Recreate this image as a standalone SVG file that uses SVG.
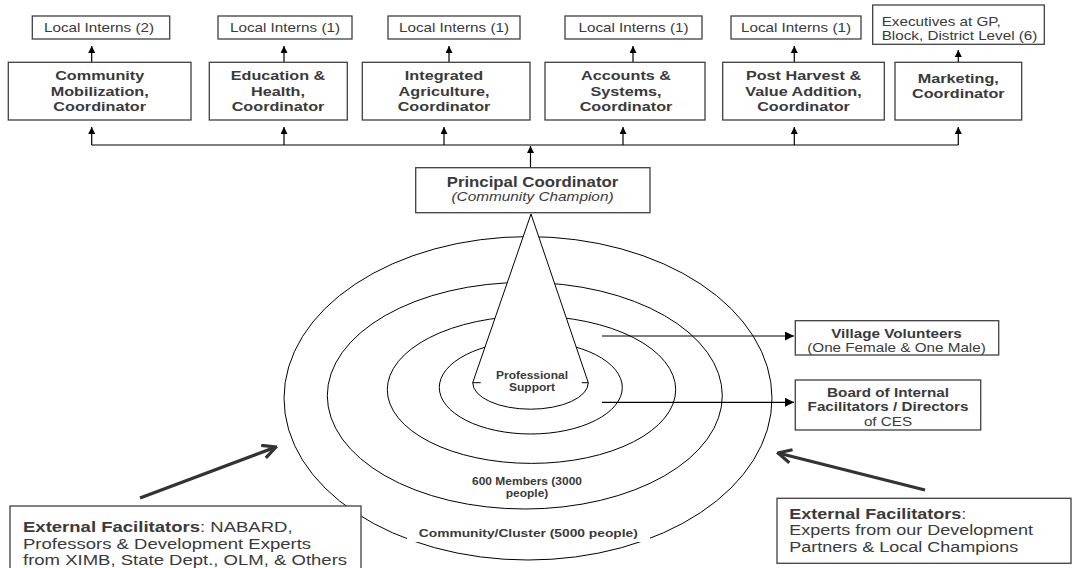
<svg xmlns="http://www.w3.org/2000/svg" width="1072" height="568" viewBox="0 0 1072 568">
<style>
.t{font-family:"Liberation Sans",Arial,sans-serif;fill:#3a3a3a}
.b{font-weight:bold}
.i{font-style:italic}
.m{text-anchor:middle}
.box{fill:#fff;stroke:#404040;stroke-width:1.3}
.ln{fill:none;stroke:#000;stroke-width:1.2}
.ring{fill:none;stroke:#000;stroke-width:1}
.thick{fill:none;stroke:#333;stroke-width:3.2}
</style>
<defs>
<marker id="tri" viewBox="0 0 10 10" refX="10" refY="5" markerWidth="7" markerHeight="7" orient="auto" markerUnits="userSpaceOnUse"><path d="M0,0 L10,5 L0,10 z" fill="#000"/></marker>
<marker id="tri2" viewBox="0 0 10 10" refX="10" refY="5" markerWidth="9" markerHeight="9" orient="auto" markerUnits="userSpaceOnUse"><path d="M0,0 L10,5 L0,10 z" fill="#000"/></marker>
<marker id="chev" viewBox="0 0 12 12" refX="11" refY="6" markerWidth="16" markerHeight="16" orient="auto" markerUnits="userSpaceOnUse"><path d="M1,1 L11,6 L1,11" fill="none" stroke="#333" stroke-width="2.4"/></marker>
</defs>
<rect width="1072" height="568" fill="#fff"/>

<g id="rings">
<ellipse class="ring" cx="528" cy="398.3" rx="244" ry="161.7"/>
<ellipse class="ring" cx="524.8" cy="395.7" rx="197.5" ry="113.3"/>
<ellipse class="ring" cx="531.5" cy="389.7" rx="144.2" ry="73.7"/>
<ellipse class="ring" cx="530.8" cy="387.5" rx="91.5" ry="46.5"/>
</g>

<g id="cone">
<path d="M531,214 L472.7,382.7 A57.8,26.5 0 0 0 588.3,382.7 Z" fill="#fff" stroke="#000" stroke-width="1"/>
<path class="ring" d="M472.7,382.7 H480.7 M581.7,382.7 H588.3"/>
<g transform="translate(532,0) scale(1.2,1)">
<text class="t b m" x="0" y="379.4" font-size="10">Professional</text>
<text class="t b m" x="0" y="391" font-size="10">Support</text>
</g>
</g>

<g id="members-label" transform="translate(527,0) scale(1.2,1)">
<text class="t b m" x="0" y="485.3" font-size="10">600 Members (3000</text>
<text class="t b m" x="0" y="497" font-size="10">people)</text>
</g>

<g id="cluster-label">
<rect x="407" y="522" width="243" height="20" fill="#fff"/>
<g transform="translate(528.3,0) scale(1.2,1)">
<text class="t b m" x="0" y="536.8" font-size="11.5">Community/Cluster (5000 people)</text>
</g>
</g>

<g id="connectors">
<path class="ln" d="M91.7,145 H958.3"/>
<path class="ln" d="M91.7,145 V127" marker-end="url(#tri)"/>
<path class="ln" d="M284,145 V127" marker-end="url(#tri)"/>
<path class="ln" d="M444,145 V127" marker-end="url(#tri)"/>
<path class="ln" d="M623,145 V127" marker-end="url(#tri)"/>
<path class="ln" d="M794.3,145 V127" marker-end="url(#tri)"/>
<path class="ln" d="M958.3,145 V127" marker-end="url(#tri)"/>
<path class="ln" d="M530.5,168 V146" marker-end="url(#tri)"/>
<path class="ln" d="M91.7,62 V46" marker-end="url(#tri)"/>
<path class="ln" d="M284,62 V46" marker-end="url(#tri)"/>
<path class="ln" d="M449,62 V46" marker-end="url(#tri)"/>
<path class="ln" d="M633,62 V46" marker-end="url(#tri)"/>
<path class="ln" d="M794.3,62 V46" marker-end="url(#tri)"/>
<path class="ln" d="M958.3,62 V50" marker-end="url(#tri)"/>
<path class="ln" d="M602,336 H794" marker-end="url(#tri2)"/>
<path class="ln" d="M602,402.3 H794" marker-end="url(#tri2)"/>
<path class="thick" d="M140,498 L276,447" marker-end="url(#chev)"/>
<path class="thick" d="M925,490 L778,453" marker-end="url(#chev)"/>
</g>

<g id="intern1"><rect class="box" x="32.3" y="16" width="137.4" height="23"/>
<g transform="translate(99,0) scale(1.2,1)"><text class="t m" x="0" y="32" font-size="12.7">Local Interns (2)</text></g></g>
<g id="intern2"><rect class="box" x="218" y="16" width="134" height="23"/>
<g transform="translate(285,0) scale(1.2,1)"><text class="t m" x="0" y="32" font-size="12.7">Local Interns (1)</text></g></g>
<g id="intern3"><rect class="box" x="388" y="16" width="132" height="23"/>
<g transform="translate(454,0) scale(1.2,1)"><text class="t m" x="0" y="32" font-size="12.7">Local Interns (1)</text></g></g>
<g id="intern4"><rect class="box" x="565" y="16" width="137" height="23"/>
<g transform="translate(633.5,0) scale(1.2,1)"><text class="t m" x="0" y="32" font-size="12.7">Local Interns (1)</text></g></g>
<g id="intern5"><rect class="box" x="731" y="16" width="130" height="23"/>
<g transform="translate(796,0) scale(1.2,1)"><text class="t m" x="0" y="32" font-size="12.7">Local Interns (1)</text></g></g>
<g id="executives"><rect class="box" x="872.7" y="5" width="171.6" height="39.3"/>
<g transform="translate(881.7,0) scale(1.2,1)"><text class="t" x="0" y="26.3" font-size="12.7">Executives at GP,</text>
<text class="t" x="0" y="39.6" font-size="12.7">Block, District Level (6)</text></g></g>

<g id="coord1"><rect class="box" x="8.3" y="62.3" width="182.7" height="57.7"/>
<g transform="translate(99.7,0) scale(1.2,1)"><text class="t b m" x="0" y="80.4" font-size="13.5">Community</text>
<text class="t b m" x="0" y="95.9" font-size="13.5">Mobilization,</text>
<text class="t b m" x="0" y="111.4" font-size="13.5">Coordinator</text></g></g>
<g id="coord2"><rect class="box" x="209.3" y="62.3" width="138" height="57.7"/>
<g transform="translate(278,0) scale(1.2,1)"><text class="t b m" x="0" y="80.4" font-size="13.5">Education &amp;</text>
<text class="t b m" x="0" y="95.9" font-size="13.5">Health,</text>
<text class="t b m" x="0" y="111.4" font-size="13.5">Coordinator</text></g></g>
<g id="coord3"><rect class="box" x="362.3" y="62.3" width="167.7" height="57.7"/>
<g transform="translate(444,0) scale(1.2,1)"><text class="t b m" x="0" y="80.4" font-size="13.5">Integrated</text>
<text class="t b m" x="0" y="95.9" font-size="13.5">Agriculture,</text>
<text class="t b m" x="0" y="111.4" font-size="13.5">Coordinator</text></g></g>
<g id="coord4"><rect class="box" x="545" y="62.3" width="160" height="57.7"/>
<g transform="translate(626,0) scale(1.2,1)"><text class="t b m" x="0" y="80.4" font-size="13.5">Accounts &amp;</text>
<text class="t b m" x="0" y="95.9" font-size="13.5">Systems,</text>
<text class="t b m" x="0" y="111.4" font-size="13.5">Coordinator</text></g></g>
<g id="coord5"><rect class="box" x="722.7" y="62.3" width="161.6" height="57.7"/>
<g transform="translate(803.5,0) scale(1.2,1)"><text class="t b m" x="0" y="80.4" font-size="13.5">Post Harvest &amp;</text>
<text class="t b m" x="0" y="95.9" font-size="13.5">Value Addition,</text>
<text class="t b m" x="0" y="111.4" font-size="13.5">Coordinator</text></g></g>
<g id="coord6"><rect class="box" x="895" y="62.3" width="126.7" height="57.7"/>
<g transform="translate(958.3,0) scale(1.2,1)"><text class="t b m" x="0" y="83" font-size="13.5">Marketing,</text>
<text class="t b m" x="0" y="98.4" font-size="13.5">Coordinator</text></g></g>

<g id="principal"><rect class="box" x="415.7" y="167.7" width="234.3" height="45"/>
<g transform="translate(532.5,0) scale(1.2,1)"><text class="t b m" x="0" y="186.7" font-size="14">Principal Coordinator</text>
<text class="t i m" x="0" y="201.3" font-size="12.8">(Community Champion)</text></g></g>

<g id="volunteers"><rect class="box" x="795.3" y="320.7" width="203.4" height="34.3"/>
<g transform="translate(896.5,0) scale(1.2,1)"><text class="t b m" x="0" y="337.9" font-size="12.7">Village Volunteers</text>
<text class="t m" x="0" y="352.3" font-size="12.7">(One Female &amp; One Male)</text></g></g>

<g id="board"><rect class="box" x="795.3" y="380" width="185.4" height="50"/>
<g transform="translate(888,0) scale(1.2,1)"><text class="t b m" x="0" y="397.3" font-size="12.7">Board of Internal</text>
<text class="t b m" x="0" y="411.3" font-size="12.7">Facilitators / Directors</text>
<text class="t m" x="0" y="425.6" font-size="12.7">of CES</text></g></g>

<g id="ext-left"><rect class="box" x="10" y="506" width="351" height="70"/>
<g transform="translate(23,0) scale(1.235,1)"><text class="t" x="0" y="532.3" font-size="15"><tspan class="b">External Facilitators</tspan>: NABARD,</text>
<text class="t" x="0" y="548.8" font-size="15">Professors &amp; Development Experts</text>
<text class="t" x="0" y="565.3" font-size="15">from XIMB, State Dept., OLM, &amp; Others</text></g></g>

<g id="ext-right"><rect class="box" x="777" y="498.3" width="294" height="65"/>
<g transform="translate(789.3,0) scale(1.2,1)"><text class="t" x="0" y="518.7" font-size="15"><tspan class="b">External Facilitators</tspan>:</text>
<text class="t" x="0" y="535.4" font-size="15">Experts from our Development</text>
<text class="t" x="0" y="552" font-size="15">Partners &amp; Local Champions</text></g></g>
</svg>
